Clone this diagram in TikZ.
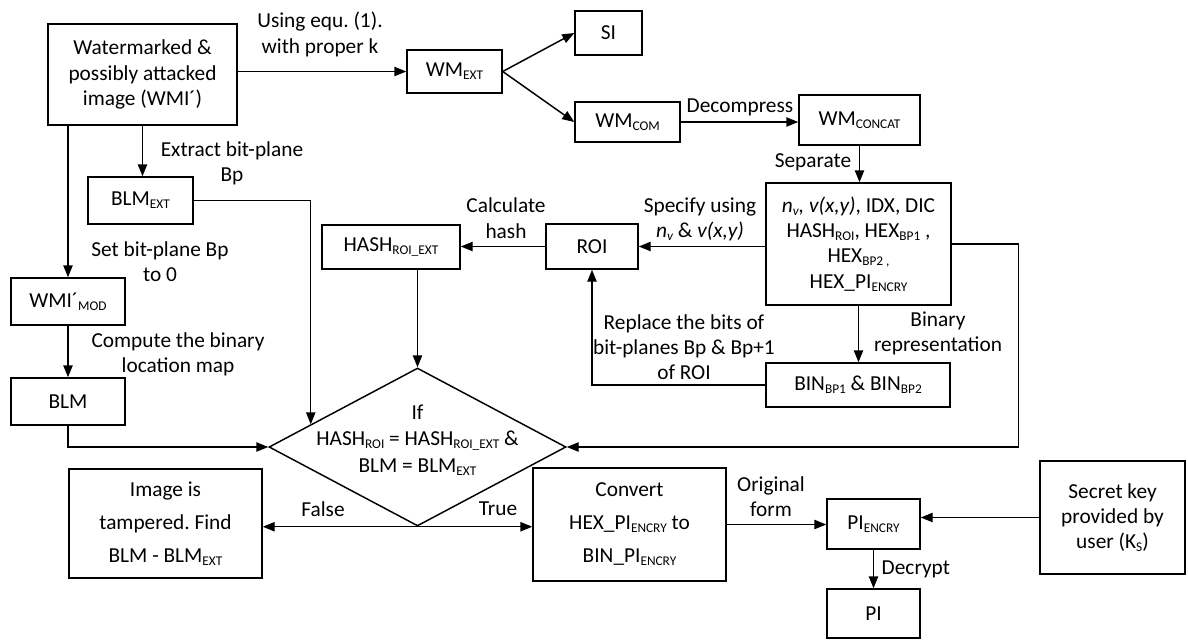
\documentclass[tikz,border=0pt]{standalone}
\usepackage{fontspec}
\setmainfont{Carlito}
\frenchspacing
\usetikzlibrary{arrows.meta,shapes.geometric}

\tikzset{every picture/.style={line width=1.1pt}}
\tikzset{
  box/.style={draw, rectangle, inner sep=0pt, align=center},
  lbl/.style={inner sep=0pt, align=center},
  arr/.style={-{Triangle[length=9pt,width=7pt]}},
}
\newcommand{\sbs}[1]{\raisebox{-0.3ex}{\fontsize{10pt}{10pt}\selectfont #1}}

\begin{document}
\begin{tikzpicture}[x=0.75pt,y=0.75pt,yscale=-1,xscale=1,font=\fontsize{16pt}{19pt}\selectfont]
%set diagram size
\useasboundingbox (0,0) rectangle (1188,643);

%Shape: Rectangle [id:wmi]
\node[box, minimum width=141.75pt, minimum height=75.75pt] (wmi) at (142.5,74.5) {Watermarked \&\\possibly attacked\\image (WMI´)};
%Shape: Rectangle [id:wmext]
\node[box, minimum width=71.25pt, minimum height=32.25pt] (wmext) at (454.5,71.5) {WM\sbs{EXT}};
%Shape: Rectangle [id:si]
\node[box, minimum width=50.25pt, minimum height=33pt] (si) at (608.5,33) {SI};
%Shape: Rectangle [id:wmcom]
\node[box, minimum width=78.75pt, minimum height=30pt] (wmcom) at (627.5,122) {WM\sbs{COM}};
%Shape: Rectangle [id:wmconcat]
\node[box, minimum width=90.75pt, minimum height=37.5pt] (wmconcat) at (859.5,120) {WM\sbs{CONCAT}};
%Shape: Rectangle [id:info]
\node[box, minimum width=138.75pt, minimum height=91.5pt] (info) at (858.5,244) {\textit{n\sbs{v}, v(x,y)}, IDX, DIC\\HASH\sbs{ROI}, HEX\sbs{BP1} ,\\HEX\sbs{BP2 ,}\\HEX\_PI\sbs{ENCRY}};
%Shape: Rectangle [id:bin]
\node[box, minimum width=138pt, minimum height=33pt] (bin) at (858,385) {BIN\sbs{BP1} \& BIN\sbs{BP2}};
%Shape: Rectangle [id:roi]
\node[box, minimum width=69pt, minimum height=33.75pt] (roi) at (592,246.5) {ROI};
%Shape: Rectangle [id:hashext]
\node[box, minimum width=103.5pt, minimum height=33pt] (hashext) at (391,247) {HASH\sbs{ROI\_EXT}};
%Shape: Rectangle [id:blmext]
\node[box, minimum width=78.75pt, minimum height=35.25pt] (blmext) at (140.5,200.5) {BLM\sbs{EXT}};
%Shape: Rectangle [id:wmimod]
\node[box, minimum width=85.5pt, minimum height=35.25pt] (wmimod) at (68,301.5) {WMI´\sbs{MOD}};
%Shape: Rectangle [id:blm]
\node[box, minimum width=85.5pt, minimum height=35.25pt] (blm) at (68,401.5) {BLM};
%Shape: Diamond [id:cond]
\node[draw, diamond, minimum width=222.75pt, minimum height=118.5pt, inner sep=0pt] (cond) at (417.5,447) {};
\node[lbl, font=\fontsize{16pt}{20pt}\selectfont] (condtxt) at (417.5,440) {If\\HASH\sbs{ROI} = HASH\sbs{ROI\_EXT} \&\\BLM = BLM\sbs{EXT}};
%Shape: Rectangle [id:tamper]
\node[box, minimum width=144.75pt, minimum height=81.75pt, font=\fontsize{16pt}{24.75pt}\selectfont] (tamper) at (165.5,523.5) {Image is\\tampered. Find\\BLM - BLM\sbs{EXT}};
%Shape: Rectangle [id:convert]
\node[box, minimum width=144.75pt, minimum height=84.75pt, font=\fontsize{16pt}{24.75pt}\selectfont] (convert) at (629.5,524.5) {Convert\\HEX\_PI\sbs{ENCRY} to\\BIN\_PI\sbs{ENCRY}};
%Shape: Rectangle [id:pienc]
\node[box, minimum width=69.75pt, minimum height=37.5pt] (pienc) at (873.5,524) {PI\sbs{ENCRY}};
%Shape: Rectangle [id:pi]
\node[box, minimum width=69.75pt, minimum height=36.75pt] (pi) at (873.5,613.5) {PI};
%Shape: Rectangle [id:secret]
\node[box, minimum width=108.75pt, minimum height=84.75pt] (secret) at (1112.5,517.5) {Secret key\\provided by\\user (K\sbs{S})};

% Text Node
\node[lbl] (lbusing) at (320,34.5) {Using equ. (1).\\with proper k};
% Text Node
\node[lbl] (lbdecomp) at (740,107) {Decompress};
% Text Node
\node[lbl] (lbsep) at (813,162) {Separate};
% Text Node
\node[lbl] (lbextract) at (232,163) {Extract bit-plane\\Bp};
% Text Node
\node[lbl] (lbset) at (160,261.5) {Set bit-plane Bp\\to 0};
% Text Node
\node[lbl] (lbcompute) at (178,354.5) {Compute the binary\\location map};
% Text Node
\node[lbl] (lbcalc) at (506,218) {Calculate\\hash};
% Text Node
\node[lbl] (lbspec) at (700,219.5) {Specify using\\\textit{n\sbs{v}} \& \textit{v(x,y)}};
% Text Node
\node[lbl] (lbbinary) at (938,333.5) {Binary\\representation};
% Text Node
\node[lbl] (lbreplace) at (684,347) {Replace the bits of\\bit-planes Bp \& Bp+1\\of ROI};
% Text Node
\node[lbl] (lbfalse) at (323,509) {False};
% Text Node
\node[lbl] (lbtrue) at (498,509) {True};
% Text Node
\node[lbl] (lborig) at (771,496.5) {Original\\form};
% Text Node
\node[lbl, anchor=west] (lbdecrypt) at (881,569) {Decrypt};

%Straight Lines
\draw[arr] (wmi.east |- wmext.west) -- (wmext.west);
\draw[arr] (wmext.east) -- (si.west);
\draw[arr] (wmext.east) -- (wmcom.west);
\draw[arr] (wmcom.east) -- (wmcom.east -| wmconcat.west);
\draw[arr] (wmconcat.south) -- (wmconcat.south |- info.north);
\draw[arr] (info.south) -- (info.south |- bin.north);
\draw[arr] (info.west |- roi.east) -- (roi.east);
\draw[arr] (roi.west) -- (roi.west -| hashext.east);
\draw[arr] (cond.north |- hashext.south) -- (cond.north);
\draw[arr] (bin.west) -| (roi.south);
\draw[arr] (info.east) -- ++(67,0) |- (cond.east);
\draw[arr] (wmimod.north |- wmi.south) -- (wmimod.north);
\draw[arr] (wmi.south) -- (wmi.south |- blmext.north);
\draw[arr] (blmext.east) -| (cond.168);
\draw[arr] (wmimod.south) -- (blm.north);
\draw[arr] (blm.south) |- (cond.west);
\draw[arr] (cond.south) -- (cond.south -| tamper.east);
\draw[arr] (cond.south) -- (cond.south -| convert.west);
\draw[arr] (convert.east) -- (convert.east -| pienc.west);
\draw[arr] (secret.west) -- (secret.west -| pienc.east);
\draw[arr] (pienc.south) -- (pi.north);

\end{tikzpicture}
\end{document}
